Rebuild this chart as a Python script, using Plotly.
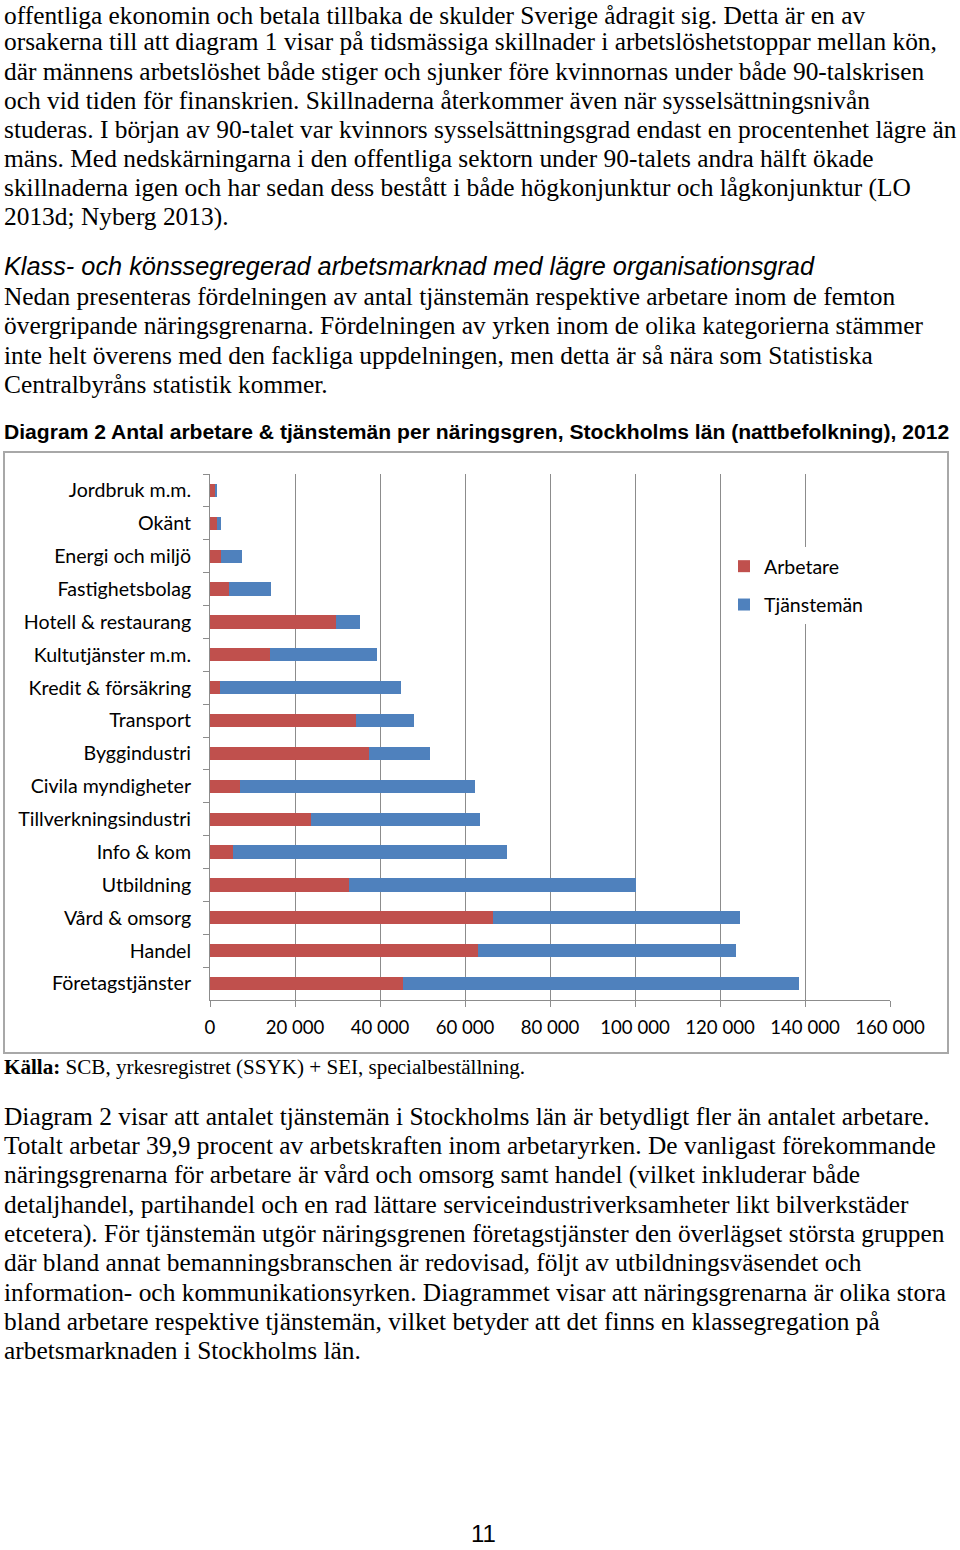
import plotly.graph_objects as go

# ---------------- data ----------------
categories = ["Jordbruk m.m.", "Okänt", "Energi och miljö", "Fastighetsbolag",
              "Hotell & restaurang", "Kultutjänster m.m.", "Kredit & försäkring",
              "Transport", "Byggindustri", "Civila myndigheter", "Tillverkningsindustri",
              "Info & kom", "Utbildning", "Vård & omsorg", "Handel", "Företagstjänster"]
arbetare = [1200, 1600, 2700, 4500, 29600, 14100, 2300, 34300, 37300, 7100,
            23700, 5500, 32800, 66500, 63000, 45500]
tjansteman = [300, 1000, 4900, 9800, 5700, 25200, 42600, 13700, 14500, 55200,
              39800, 64400, 67500, 58200, 60800, 93200]
series_names = ["Arbetare", "Tjänstemän"]
x_ticks = [0, 20000, 40000, 60000, 80000, 100000, 120000, 140000, 160000]
x_ticktext = ["0", "20 000", "40 000", "60 000", "80 000", "100 000", "120 000",
              "140 000", "160 000"]

para1 = ["offentliga ekonomin och betala tillbaka de skulder Sverige ådragit sig. Detta är en av",
         "orsakerna till att diagram 1 visar på tidsmässiga skillnader i arbetslöshetstoppar mellan kön,",
         "där männens arbetslöshet både stiger och sjunker före kvinnornas under både 90-talskrisen",
         "och vid tiden för finanskrien. Skillnaderna återkommer även när sysselsättningsnivån",
         "studeras. I början av 90-talet var kvinnors sysselsättningsgrad endast en procentenhet lägre än",
         "mäns. Med nedskärningarna i den offentliga sektorn under 90-talets andra hälft ökade",
         "skillnaderna igen och har sedan dess bestått i både högkonjunktur och lågkonjunktur (LO",
         "2013d; Nyberg 2013)."]
heading = "Klass- och könssegregerad arbetsmarknad med lägre organisationsgrad"
para2 = ["Nedan presenteras fördelningen av antal tjänstemän respektive arbetare inom de femton",
         "övergripande näringsgrenarna. Fördelningen av yrken inom de olika kategorierna stämmer",
         "inte helt överens med den fackliga uppdelningen, men detta är så nära som Statistiska",
         "Centralbyråns statistik kommer."]
chart_title = "Diagram 2 Antal arbetare & tjänstemän per näringsgren, Stockholms län (nattbefolkning), 2012"
source = "<b>Källa:</b> SCB, yrkesregistret (SSYK) + SEI, specialbeställning."
para3 = ["Diagram 2 visar att antalet tjänstemän i Stockholms län är betydligt fler än antalet arbetare.",
         "Totalt arbetar 39,9 procent av arbetskraften inom arbetaryrken. De vanligast förekommande",
         "näringsgrenarna för arbetare är vård och omsorg samt handel (vilket inkluderar både",
         "detaljhandel, partihandel och en rad lättare serviceindustriverksamheter likt bilverkstäder",
         "etcetera). För tjänstemän utgör näringsgrenen företagstjänster den överlägset största gruppen",
         "där bland annat bemanningsbranschen är redovisad, följt av utbildningsväsendet och",
         "information- och kommunikationsyrken. Diagrammet visar att näringsgrenarna är olika stora",
         "bland arbetare respektive tjänstemän, vilket betyder att det finns en klassegregation på",
         "arbetsmarknaden i Stockholms län."]
page_number = "11"

# ---------------- layout helpers ----------------
W, H = 960, 1550
PL, PR, PT, PB = 210, 70, 474, 550
pw, ph = W - PL - PR, H - PT - PB


def px2x(px):
    return (px - PL) / pw


def py2y(py):
    return (H - PB - py) / ph


RED = "#C0504D"
BLUE = "#4F81BD"
GRID = "#8C8C8C"
CHART_FONT = "Lato"
SERIF = "Liberation Serif"
SANS = "Liberation Sans"

fig = go.Figure()
fig.add_trace(go.Bar(y=categories, x=arbetare, name=series_names[0], orientation="h",
                     marker=dict(color=RED, line=dict(width=0)), legendgroup="a"))
fig.add_trace(go.Bar(y=categories, x=tjansteman, name=series_names[1], orientation="h",
                     marker=dict(color=BLUE, line=dict(width=0)), legendgroup="b"))

annotations = []


def add_line(text, px, py, family, size, anchor="left", color="black"):
    annotations.append(dict(text=text, x=px2x(px), y=py2y(py), xref="paper", yref="paper",
                            xanchor=anchor, yanchor="middle", showarrow=False, borderpad=0,
                            font=dict(family=family, size=size, color=color)))


LS = 29.25
BODY = 25.4
X0 = 3
for i, t in enumerate(para1):
    add_line(t, X0, (14.5 if i == 0 else 12 + i * LS), SERIF, BODY)
add_line("<i>" + heading + "</i>", X0, 266, SANS, 25.3)
for i, t in enumerate(para2):
    add_line(t, X0, 296 + i * LS, SERIF, BODY)
add_line("<b>" + chart_title + "</b>", X0, 431, SANS, 21.1)
add_line(source, X0, 1067, SERIF, 21.1)
for i, t in enumerate(para3):
    add_line(t, X0, 1116 + i * LS, SERIF, BODY)
add_line(page_number, 483, 1534, SANS, 24, anchor="center")

fig.update_layout(
    width=W, height=H,
    margin=dict(l=PL, r=PR, t=PT, b=PB, pad=0),
    paper_bgcolor="white", plot_bgcolor="white",
    barmode="stack", bargap=0.6,
    showlegend=True,
    legend=dict(x=px2x(724), y=py2y(547), xanchor="left", yanchor="top",
                bgcolor="white", borderwidth=0, traceorder="grouped",
                tracegroupgap=10, font=dict(family=CHART_FONT, size=19.5, color="black")),
    xaxis=dict(range=[0, 160000], tickvals=x_ticks, ticktext=x_ticktext,
               showgrid=True, gridcolor=GRID, gridwidth=1, zeroline=False,
               showline=True, linecolor=GRID, linewidth=1,
               ticks="outside", ticklen=6, tickcolor=GRID,
               tickfont=dict(family=CHART_FONT, size=18.6, color="black"),
               ticklabelstandoff=5, fixedrange=True),
    yaxis=dict(categoryorder="array", categoryarray=categories, autorange="reversed",
               showline=True, linecolor=GRID, linewidth=1, showgrid=False,
               ticks="outside", ticklen=6, tickcolor=GRID, tickson="boundaries",
               tickfont=dict(family=CHART_FONT, size=19.6, color="black"),
               ticklabelstandoff=14, fixedrange=True),
    annotations=annotations,
    shapes=[dict(type="rect", xref="paper", yref="paper",
                 x0=px2x(4), x1=px2x(948), y0=py2y(1053), y1=py2y(452),
                 line=dict(color="#A8A8A8", width=2), layer="below")],
)

fig.write_html("out.html", config={"displayModeBar": False},
               post_script="document.body.style.margin='0';")
